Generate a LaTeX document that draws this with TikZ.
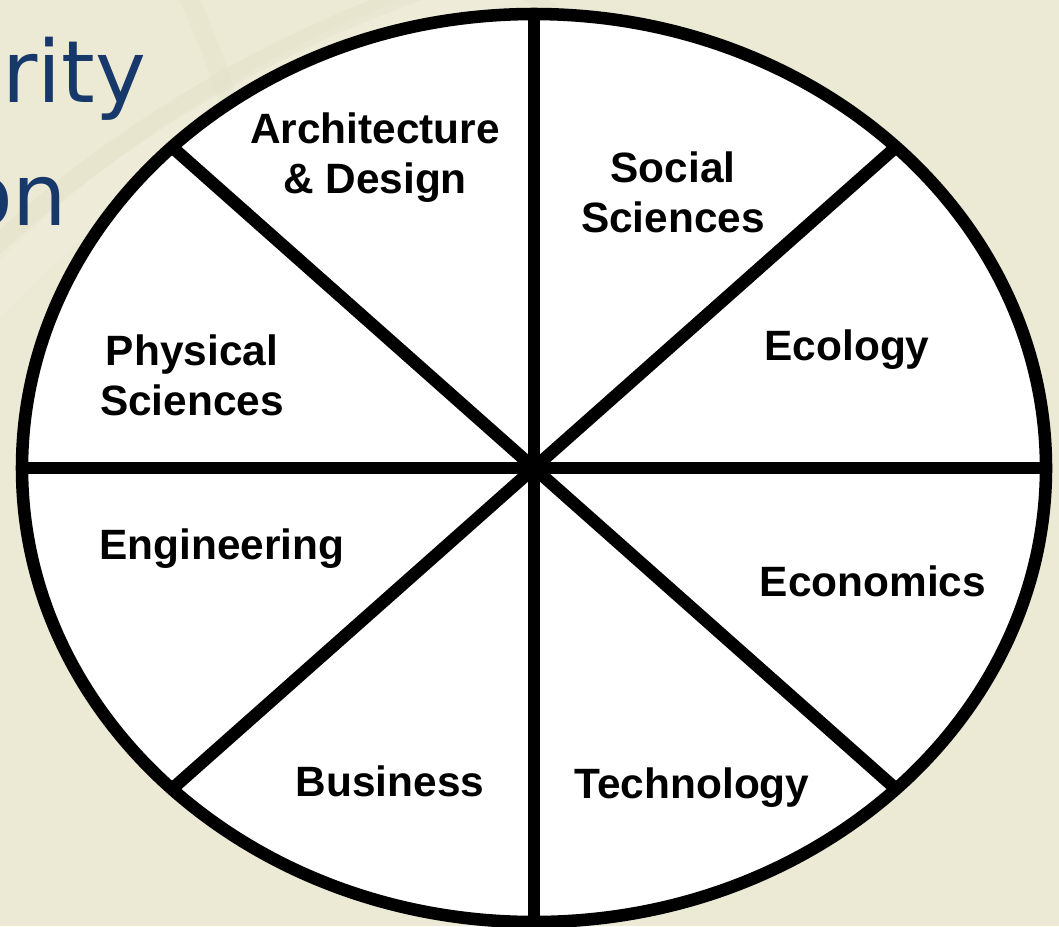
\documentclass[tikz,border=0pt]{standalone}
\usepackage{fontspec}
\setmainfont{Liberation Sans}
\newfontfamily\dvfont{DejaVu Sans}
\definecolor{bgcream}{RGB}{236,234,212}
\definecolor{bgband}{RGB}{229,225,201}
\definecolor{bglight}{RGB}{240,238,220}
\definecolor{titleblue}{RGB}{22,56,106}
\begin{document}
\begin{tikzpicture}[x=0.75pt,y=-0.75pt,
  wheel/.style={line width=9.4pt,draw=black},
  spoke/.style={line width=9.4pt,draw=black},
  lab/.style={font=\fontsize{31.8pt}{37.5pt}\selectfont\bfseries,align=center,inner sep=0pt},
  bigtxt/.style={font=\dvfont\fontsize{64.5pt}{70pt}\selectfont,text=titleblue,inner sep=0pt}]
\useasboundingbox (0,0) rectangle (1059,926);
\clip (0,0) rectangle (1059,926);
\fill[bgcream] (0,0) rectangle (1059,926);
% faint background pattern
\draw[bglight,line width=30pt,opacity=0.6] (-40,330) .. controls (80,200) and (250,60) .. (520,-20);
\draw[bgband,line width=14pt,opacity=0.45] (-40,280) .. controls (90,150) and (260,40) .. (480,-30);
\draw[bgband,line width=14pt,opacity=0.4] (180,-20) .. controls (230,80) and (260,200) .. (270,320);
\draw[bgband,line width=10pt,opacity=0.4] (520,-10) .. controls (600,40) and (650,80) .. (700,120);
% title fragments
\node[bigtxt,anchor=base west] (t1) at (2,102) {rity};
\node[bigtxt,anchor=base west] (t2) at (-40,225) {on};
% wheel
\coordinate (c) at (534,468);
\coordinate (pE) at (1046,468);
\coordinate (pNE) at (896,147);
\coordinate (pN) at (534,14);
\coordinate (pNW) at (172,147);
\coordinate (pW) at (22,468);
\coordinate (pSW) at (172,789);
\coordinate (pS) at (534,922);
\coordinate (pSE) at (896,789);
\filldraw[wheel,fill=white] (c) ellipse [x radius=512, y radius=454];
\foreach \p in {pE,pNE,pN,pNW,pW,pSW,pS,pSE}
  \draw[spoke] (c) -- (\p);
% labels
\node[lab] (arch) at (375,158) {Architecture\\\& Design};
\node[lab] (soc) at (673,192) {Social\\Sciences};
\node[lab] (phys) at (192,375) {Physical\\Sciences};
\node[lab] (eco) at (847,350) {Ecology};
\node[lab] (eng) at (222,549) {Engineering};
\node[lab] (econ) at (873,581) {Economics};
\node[lab] (bus) at (390,781) {Business};
\node[lab] (tech) at (692,788) {Technology};
\end{tikzpicture}
\end{document}
